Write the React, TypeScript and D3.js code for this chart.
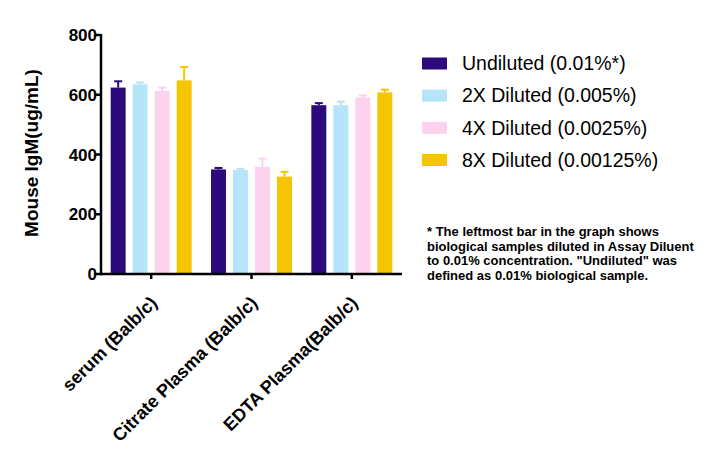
import React from "react";
import * as d3 from "d3";

const categories = ["serum (Balb/c)", "Citrate Plasma (Balb/c)", "EDTA Plasma(Balb/c)"];
const seriesNames = ["Undiluted (0.01%*)", "2X Diluted (0.005%)", "4X Diluted (0.0025%)", "8X Diluted (0.00125%)"];
const seriesColors = ["#2C0A7E", "#B6E5F9", "#FCD2EE", "#F4C500"];
const undiluted = [624, 350, 565];
const undilutedErr = [21, 5, 7];
const diluted2x = [635, 348, 565];
const diluted2xErr = [6, 4, 12];
const diluted4x = [613, 359, 591];
const diluted4xErr = [11, 27, 7];
const diluted8x = [648, 326, 608];
const diluted8xErr = [45, 16, 9];
const yTicks = [0, 200, 400, 600, 800];
const footnote = [
  "* The leftmost bar in the graph shows",
  "biological samples diluted in Assay Diluent",
  "to 0.01% concentration. \"Undiluted\" was",
  "defined as 0.01% biological sample.",
];

const values = [undiluted, diluted2x, diluted4x, diluted8x];
const errors = [undilutedErr, diluted2xErr, diluted4xErr, diluted8xErr];

export default function App() {
  const W = 709, H = 462;
  const x0 = 101, x1 = 402, yTop = 35, yBot = 274;
  const y = d3.scaleLinear().domain([0, 800]).range([yBot, yTop]);
  const xg = d3.scaleBand<string>().domain(categories).range([x0, x1]).paddingInner(0).paddingOuter(0);
  const xs = d3.scaleBand<number>().domain([0, 1, 2, 3]).range([0, xg.bandwidth()]).paddingInner(0.32).paddingOuter(0.44);
  const font = "Liberation Sans, Arial, sans-serif";
  const legendRows = d3.scaleLinear().domain([0, 3]).range([63.5, 160]);

  return (
    <div style={{ position: "absolute", left: 0, top: 0 }}>
      <svg width={W} height={H} style={{ display: "block", background: "#fff" }} fontFamily={font}>
        {/* bars */}
        {categories.map((c, ci) => (
          <g key={c} transform={`translate(${xg(c)},0)`}>
            {values.map((s, si) => {
              const bx = xs(si)!;
              const bw = xs.bandwidth();
              const top = y(s[ci]);
              const et = y(s[ci] + errors[si][ci]);
              const cx = bx + bw / 2;
              return (
                <g key={si}>
                  <rect x={bx} y={top} width={bw} height={yBot - top} fill={seriesColors[si]} />
                  <line x1={cx} x2={cx} y1={top} y2={et} stroke={seriesColors[si]} strokeWidth={2} />
                  <line x1={cx - 4} x2={cx + 4} y1={et} y2={et} stroke={seriesColors[si]} strokeWidth={2} />
                </g>
              );
            })}
          </g>
        ))}
        {/* y axis */}
        <line x1={x0} x2={x0} y1={yTop - 1} y2={yBot + 1.2} stroke="#000" strokeWidth={2.5} />
        {yTicks.map((t) => (
          <g key={t}>
            <line x1={x0 - 5} x2={x0} y1={y(t)} y2={y(t)} stroke="#000" strokeWidth={2.5} />
            <text x={x0 - 4} y={y(t)} dy="0.36em" textAnchor="end" fontSize={17} fontWeight="bold">
              {t}
            </text>
          </g>
        ))}
        {/* x axis */}
        <line x1={x0 - 1.2} x2={x1} y1={yBot} y2={yBot} stroke="#000" strokeWidth={2.5} />
        {categories.map((c) => {
          const cx = xg(c)! + xg.bandwidth() / 2;
          return (
            <g key={c}>
              <line x1={cx} x2={cx} y1={yBot} y2={yBot + 5} stroke="#000" strokeWidth={2.5} />
              <text
                transform={`translate(${cx + 7},${yBot + 30}) rotate(-45)`}
                textAnchor="end"
                fontSize={18}
                fontWeight="bold"
              >
                {c}
              </text>
            </g>
          );
        })}
        {/* y axis title */}
        <text
          transform={`translate(38,153) rotate(-90)`}
          textAnchor="middle"
          fontSize={19}
          fontWeight="bold"
        >
          Mouse IgM(ug/mL)
        </text>
        {/* legend */}
        {seriesNames.map((n, i) => (
          <g key={n}>
            <rect x={422} y={legendRows(i) - 6} width={25} height={12} fill={seriesColors[i]} />
            <text x={462} y={legendRows(i) + 6.7} fontSize={19.5}>
              {n}
            </text>
          </g>
        ))}
        {footnote.map((l, i) => (
          <text key={i} x={427} y={236 + i * 14.5} fontSize={13} fontWeight="bold">
            {l}
          </text>
        ))}
      </svg>
    </div>
  );
}
